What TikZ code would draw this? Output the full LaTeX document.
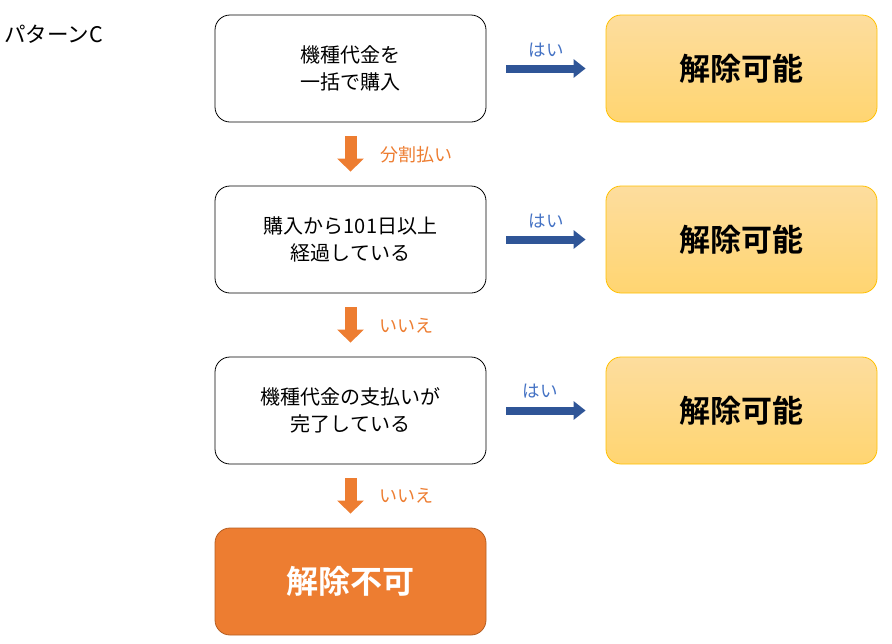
\documentclass[tikz,border=0pt]{standalone}
\usepackage{fontspec}
\setmainfont{Noto Sans CJK JP}[BoldFont={* Bold}]
\usetikzlibrary{arrows.meta}
\definecolor{stepedge}{HTML}{000000}
\definecolor{okedge}{HTML}{FFC000}
\definecolor{oktop}{HTML}{FDDD9E}
\definecolor{okbottom}{HTML}{FFD571}
\definecolor{ngorange}{HTML}{ED7D31}
\definecolor{ngedge}{HTML}{B55E22}
\definecolor{yesblue}{HTML}{2F5597}
\definecolor{yestext}{HTML}{4472C4}

\begin{document}
\begin{tikzpicture}[
  x=1pt,
  y=-1pt,
  box/.style={rounded corners=15pt,minimum width=271pt,minimum height=107pt,
    align=center,inner sep=0pt},
  question/.style={box,draw=stepedge,line width=0.8pt,fill=white,
    font=\fontsize{20}{27}\selectfont},
  okbox/.style={box,draw=okedge,line width=0.8pt,top color=oktop,bottom color=okbottom,
    font=\fontsize{31}{33}\selectfont\bfseries},
  ngbox/.style={box,draw=ngedge,line width=0.8pt,fill=ngorange,text=white,
    font=\fontsize{32}{34}\selectfont\bfseries},
  yesarrow/.style={draw=yesblue,line width=8pt,-{Triangle[length=12pt,width=18pt]}},
  noarrow/.style={draw=ngorange,line width=12pt,-{Triangle[length=13pt,width=26pt]}},
  yeslabel/.style={text=yestext,font=\fontsize{17.5}{19}\selectfont,inner sep=0pt},
  nolabel/.style={text=ngorange,font=\fontsize{18}{20}\selectfont,inner sep=0pt,anchor=west}
]
  \useasboundingbox (0,0) rectangle (892,643);

  % Title
  \node[anchor=west,inner sep=0pt,font=\fontsize{21.5}{23}\selectfont] (title) at (4,34) {パターンC};

  % Question boxes on the left
  \node[question] (q1) at (350.5,68.5) {機種代金を\\一括で購入};
  \node[question] (q2) at (350.5,239.5) {購入から101日以上\\経過している};
  \node[question] (q3) at (350.5,410.5) {機種代金の支払いが\\完了している};
  \node[ngbox] (ng) at (350.5,581.5) {解除不可};

  % Result boxes on the right
  \foreach \i/\y in {1/68.5,2/239.5,3/410.5} {
    \node[okbox] (r\i) at (741.5,\y) {解除可能};
  }

  % Blue "yes" arrows
  \foreach \i in {1,2,3} {
    \draw[yesarrow] ([xshift=20pt]q\i.east) -- ([xshift=-20pt]r\i.west);
  }
  \node[yeslabel] (y1) at (546,50) {はい};
  \node[yeslabel] (y2) at (546,221) {はい};
  \node[yeslabel] (y3) at (540,391) {はい};

  % Orange "no" arrows
  \draw[noarrow] ([yshift=-14pt]q1.south) -- ([yshift=14pt]q2.north);
  \draw[noarrow] ([yshift=-14pt]q2.south) -- ([yshift=14pt]q3.north);
  \draw[noarrow] ([yshift=-14pt]q3.south) -- ([yshift=14pt]ng.north);
  \node[nolabel] (n1) at (380,155) {分割払い};
  \node[nolabel] (n2) at (379,326) {いいえ};
  \node[nolabel] (n3) at (379,496) {いいえ};
\end{tikzpicture}
\end{document}
